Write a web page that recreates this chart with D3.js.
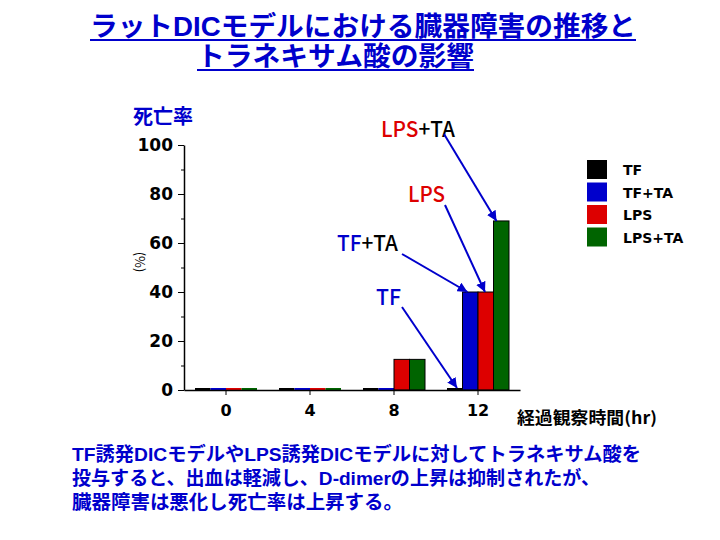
<!DOCTYPE html>
<html><head><meta charset="utf-8">
<script src="https://cdn.jsdelivr.net/npm/d3@7"></script>
<style>body{margin:0;background:#fff}svg{display:block}</style>
</head><body>
<script>
const categories = ["0","4","8","12"];
const seriesNames = ["TF","TF+TA","LPS","LPS+TA"];
const seriesColors = ["#000000","#0000cc","#dd0000","#006400"];
const valuesTF = [0,0,0,0];
const valuesTFTA = [0,0,0,40];
const valuesLPS = [0,0,12.5,40];
const valuesLPSTA = [0,0,12.5,69];
const yTicks = [0,20,40,60,80,100];
const titleLines = ["ラットDICモデルにおける臓器障害の推移と","トラネキサム酸の影響"];
const noteLines = ["TF誘発DICモデルやLPS誘発DICモデルに対してトラネキサム酸を","投与すると、出血は軽減し、D-dimerの上昇は抑制されたが、","臓器障害は悪化し死亡率は上昇する。"];

const seriesValues = [valuesTF, valuesTFTA, valuesLPS, valuesLPSTA];
const W=720,H=540;
const FONT = "'Noto Sans CJK JP', sans-serif";
const TFONT = "'Liberation Sans', 'Noto Sans CJK JP', sans-serif";
const svg = d3.select("body").append("svg").attr("width",W).attr("height",H).style("font-family",FONT);

// Title
const titleX = [90, 197], titleY=[36,66], titleW=[546,277];
titleLines.forEach((t,i)=>{
  svg.append("text").attr("x",titleX[i]).attr("y",titleY[i])
    .attr("font-family",TFONT).attr("fill","#0000cc").attr("font-size",27).attr("font-weight","bold")
    .attr("textLength",titleW[i]).attr("lengthAdjust","spacingAndGlyphs").text(t);
  svg.append("line").attr("x1",titleX[i]).attr("x2",titleX[i]+titleW[i]).attr("y1",titleY[i]+4).attr("y2",titleY[i]+4)
    .attr("stroke","#0000cc").attr("stroke-width",2);
});

const x = d3.scaleBand().domain(categories).range([184,520]);
const y = d3.scaleLinear().domain([0,100]).range([390,145]);
const xs = d3.scaleBand().domain(seriesNames).range([-31,31]);

// bars
seriesNames.forEach((s,si)=>{
  svg.append("g").selectAll("rect").data(categories.map((c,ci)=>({c,v:seriesValues[si][ci]})))
    .join("rect")
    .attr("x",d=>x(d.c)+x.bandwidth()/2+xs(s))
    .attr("width",xs.bandwidth())
    .attr("y",d=>d.v>0?y(d.v):y(0)-2)
    .attr("height",d=>d.v>0?y(0)-y(d.v):2)
    .attr("fill",seriesColors[si])
    .attr("stroke",d=>d.v>0?"#000":"none").attr("stroke-width",1);
});

// axes
const ya = svg.append("g").attr("transform","translate(184,0)")
  .call(d3.axisLeft(y).tickValues(yTicks).tickSize(6).tickSizeOuter(0));
ya.selectAll("text").attr("font-size",17).attr("font-weight","bold").attr("fill","#000")
  .attr("font-family","'DejaVu Sans', sans-serif").attr("dx",-2);
svg.append("g").attr("transform","translate(184,0)")
  .call(d3.axisLeft(y).tickValues(d3.range(10,100,20)).tickSize(3).tickFormat(""))
  .select(".domain").remove();
const xa = svg.append("g").attr("transform","translate(0,390)")
  .call(d3.axisBottom(x).tickSize(5).tickSizeOuter(0));
xa.selectAll("text").attr("font-size",16).attr("font-weight","bold").attr("fill","#000")
  .attr("font-family","'DejaVu Sans', sans-serif").attr("dy","1.1em");
svg.selectAll(".domain").attr("stroke","#000").attr("stroke-width",1.5);

// axis labels
svg.append("text").attr("x",133).attr("y",124).attr("fill","#0000cc").attr("font-size",20).attr("font-weight","bold").text("死亡率");
svg.append("text").attr("transform","translate(135,262) rotate(90)").attr("text-anchor","middle")
  .attr("font-size",13).attr("fill","#000").text("(%)");
svg.append("text").attr("x",517).attr("y",424).attr("font-size",16.5).attr("font-weight","bold").attr("fill","#000")
  .attr("textLength",140).attr("lengthAdjust","spacingAndGlyphs").text("経過観察時間(hr)");

// legend
seriesNames.forEach((s,i)=>{
  const ly = 160+i*22.5;
  svg.append("rect").attr("x",587).attr("y",ly).attr("width",20).attr("height",19).attr("fill",seriesColors[i]);
  svg.append("text").attr("x",623).attr("y",ly+15).attr("font-size",14).attr("font-weight","bold")
    .attr("font-family","'DejaVu Sans', sans-serif").attr("fill","#000").text(s);
});

// annotations
svg.append("defs").append("marker").attr("id","ah").attr("viewBox","0 0 10 10").attr("refX",10).attr("refY",5)
  .attr("markerWidth",5).attr("markerHeight",5).attr("orient","auto")
  .append("path").attr("d","M0,0L10,5L0,10z").attr("fill","#0000cc");
const ann = [
  {parts:[["LPS","#dd0000"],["+TA","#000"]], lx:381, ly:137, lw:74, sx:444, sy:134, si:3, ci:3, dx:3, dy:0},
  {parts:[["LPS","#dd0000"]], lx:408, ly:202, lw:37, sx:445, sy:205, si:2, ci:3, dx:7, dy:0},
  {parts:[["TF","#0000cc"],["+TA","#000"]], lx:337, ly:251, lw:61, sx:402, sy:254, si:1, ci:3, dx:5, dy:0},
  {parts:[["TF","#0000cc"]], lx:376, ly:305, lw:25, sx:402, sy:307, si:0, ci:3, dx:10, dy:-2},
];
ann.forEach(a=>{
  const t = svg.append("text").attr("x",a.lx).attr("y",a.ly).attr("font-size",22).attr("font-weight","500")
    .attr("textLength",a.lw).attr("lengthAdjust","spacingAndGlyphs");
  a.parts.forEach(p=>t.append("tspan").attr("fill",p[1]).text(p[0]));
  const c = categories[a.ci], v = seriesValues[a.si][a.ci];
  const tx = x(c)+x.bandwidth()/2+xs(seriesNames[a.si])+a.dx;
  const ty = y(v)+a.dy;
  svg.append("line").attr("x1",a.sx).attr("y1",a.sy).attr("x2",tx).attr("y2",ty)
    .attr("stroke","#0000cc").attr("stroke-width",2).attr("marker-end","url(#ah)");
});

// note
const noteW = [569, 528, 331];
noteLines.forEach((t,i)=>{
  svg.append("text").attr("x",72).attr("y",461+i*24).attr("font-size",19).attr("font-weight","bold")
    .attr("font-family",TFONT).attr("textLength",noteW[i]).attr("lengthAdjust","spacingAndGlyphs")
    .attr("fill","#0000cc").text(t);
});
</script>
</body></html>
